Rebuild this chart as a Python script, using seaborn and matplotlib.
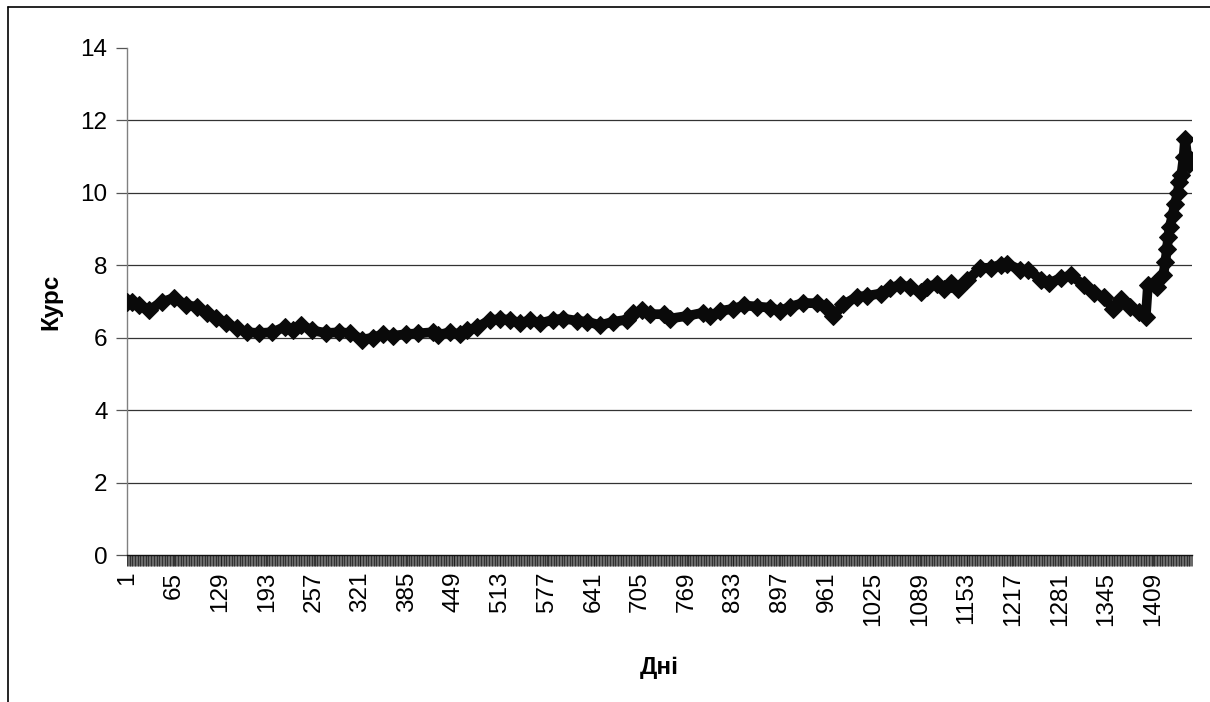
import numpy as np
import pandas as pd
import matplotlib
matplotlib.use("Agg")
import matplotlib.pyplot as plt
from matplotlib.lines import Line2D
from matplotlib import font_manager as fm
import seaborn as sns

# ---- data (day index, rate) ----
days = [1, 7, 17, 31, 49, 65, 82, 96, 110, 123, 137, 151, 165, 182, 200, 217, 228,
        240, 255, 274, 292, 306, 323, 338, 352, 365, 384, 400, 420, 427, 444, 457,
        467, 481, 499, 512, 526, 540, 554, 567, 585, 599, 618, 632, 650, 668, 687,
        695, 708, 719, 737, 746, 769, 791, 801, 815, 833, 847, 866, 883, 897, 911,
        929, 948, 960, 970, 984, 1003, 1017, 1035, 1048, 1062, 1076, 1090, 1099,
        1113, 1122, 1131, 1141, 1154, 1172, 1186, 1200, 1209, 1227, 1238, 1255,
        1266, 1283, 1296, 1314, 1328, 1342, 1354, 1365, 1378, 1390, 1399, 1402,
        1410, 1415, 1423, 1426, 1428, 1430, 1432, 1436, 1439, 1443, 1445, 1448,
        1451, 1453, 1456, 1459, 1461]
rate = [7.0, 7.0, 6.89, 6.77, 6.99, 7.1, 6.89, 6.86, 6.67, 6.54, 6.4, 6.26, 6.15,
        6.13, 6.15, 6.3, 6.2, 6.35, 6.2, 6.13, 6.15, 6.13, 5.95, 6.0, 6.1, 6.05,
        6.1, 6.12, 6.15, 6.08, 6.15, 6.1, 6.2, 6.29, 6.49, 6.51, 6.5, 6.4, 6.49,
        6.4, 6.49, 6.53, 6.47, 6.44, 6.35, 6.44, 6.5, 6.67, 6.76, 6.65, 6.65, 6.53,
        6.6, 6.69, 6.6, 6.74, 6.8, 6.89, 6.86, 6.83, 6.74, 6.86, 6.96, 6.95, 6.85,
        6.59, 6.92, 7.13, 7.16, 7.22, 7.37, 7.46, 7.39, 7.25, 7.41, 7.48, 7.34,
        7.5, 7.34, 7.58, 7.93, 7.93, 8.02, 8.03, 7.88, 7.88, 7.6, 7.51, 7.65, 7.72,
        7.46, 7.23, 7.12, 6.8, 7.07, 6.86, 6.7, 6.56, 7.45, 7.49, 7.4, 7.72, 8.1,
        8.45, 8.79, 9.07, 9.4, 9.7, 10.0, 10.3, 10.5, 11.0, 11.5, 11.0, 10.8, 10.9]
n_days = 1462
tick_days = list(range(1, 1410, 64))
y_ticks = [0, 2, 4, 6, 8, 10, 12, 14]

df = pd.DataFrame({"Дні": days, "Курс": rate})

sns.set_style("white")
plt.rcParams["font.family"] = ["Liberation Sans", "DejaVu Sans"]


def find_font(fname_part, fallback_weight):
    for f in fm.fontManager.ttflist:
        if f.fname.endswith(fname_part):
            return fm.FontProperties(fname=f.fname)
    return fm.FontProperties(family=["Liberation Sans", "DejaVu Sans"],
                             weight=fallback_weight)


fp_reg = find_font("LiberationSans-Regular.ttf", "normal")
fp_bold = find_font("LiberationSans-Bold.ttf", "bold")
fp_reg.set_size(17.5)
fp_bold.set_size(17.5)

fig = plt.figure(figsize=(12.10, 7.02), dpi=100)
ax = fig.add_axes([127 / 1210, 1 - 555 / 702, (1192 - 127) / 1210, (555 - 48) / 702])

for v in y_ticks[1:-1]:
    ax.axhline(v, color="#333333", lw=0.9, zorder=1)

sns.lineplot(data=df, x="Дні", y="Курс", ax=ax, color="#0a0a0a", lw=7,
             marker="D", markersize=9, markeredgecolor="#0a0a0a",
             markerfacecolor="#0a0a0a", zorder=3)

ax.set_xlim(0.5, n_days + 0.5)
ax.set_ylim(0, 14)
ax.set_yticks(y_ticks)
ax.set_yticklabels([str(v) for v in y_ticks], fontproperties=fp_reg, color="black")
ax.set_xticks(tick_days)
ax.set_xticklabels([str(d) for d in tick_days], rotation=90, fontproperties=fp_reg,
                   color="black")
ax.set_xticks(np.arange(1, n_days + 1), minor=True)
ax.tick_params(axis="x", which="major", length=8, width=0.6, color="#111111", pad=4,
               direction="out", bottom=True)
ax.tick_params(axis="x", which="minor", length=8, width=0.45, color="#111111",
               direction="out", bottom=True)
ax.tick_params(axis="y", which="major", length=8, width=0.9, color="#555555", pad=6,
               direction="out", left=True)

for s in ["top", "right"]:
    ax.spines[s].set_visible(False)
ax.spines["left"].set_color("#808080")
ax.spines["left"].set_linewidth(1.0)
ax.spines["bottom"].set_color("#111111")
ax.spines["bottom"].set_linewidth(1.0)

ax.set_xlabel("Дні", fontproperties=fp_bold, color="black")
ax.set_ylabel("Курс", fontproperties=fp_bold, color="black")
ax.xaxis.set_label_coords(0.5, -0.2)
ax.yaxis.set_label_coords(-0.061, 0.5)

# outer frame (left and top edges visible in the reference)
fig.add_artist(Line2D([8 / 1210, 8 / 1210], [0, 1 - 7 / 702], transform=fig.transFigure,
                      color="black", lw=1.2))
fig.add_artist(Line2D([8 / 1210, 1], [1 - 7 / 702, 1 - 7 / 702], transform=fig.transFigure,
                      color="black", lw=1.2))

fig.savefig("out.png", dpi=100, facecolor="white")
